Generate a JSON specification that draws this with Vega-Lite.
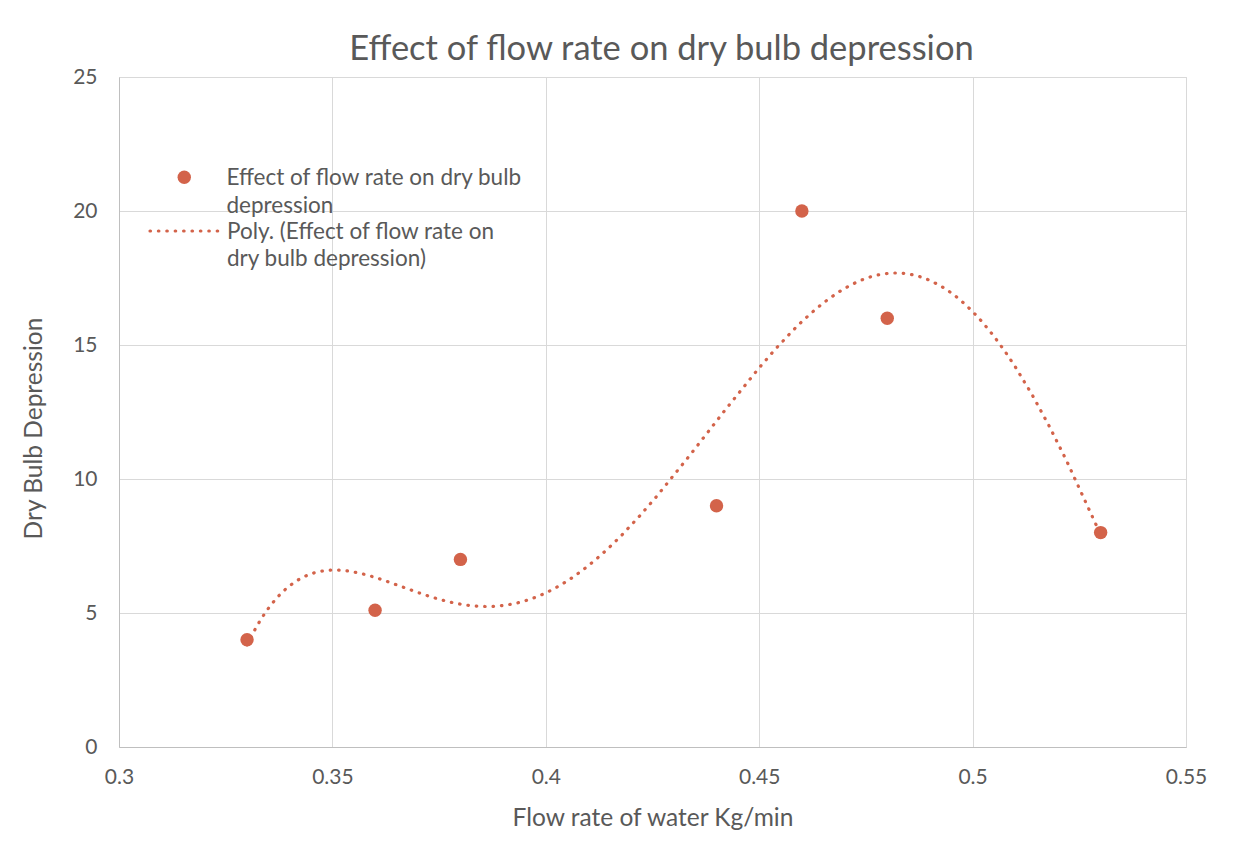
{
  "$schema": "https://vega.github.io/schema/vega-lite/v6.json",
  "width": 1067,
  "height": 670,
  "autosize": {"type": "none"},
  "padding": {"left": 119, "top": 77, "right": 63, "bottom": 96},
  "background": "white",
  "title": {
    "text": "Effect of flow rate on dry bulb depression",
    "font": "Lato",
    "fontSize": 34.5,
    "fontWeight": "normal",
    "color": "#595959",
    "anchor": "middle",
    "baseline": "alphabetic",
    "offset": -28,
    "dx": 9
  },
  "data": {
    "values": [
      {"flow": 0.33, "dbd": 4},
      {"flow": 0.36, "dbd": 5.1},
      {"flow": 0.38, "dbd": 7},
      {"flow": 0.44, "dbd": 9},
      {"flow": 0.46, "dbd": 20},
      {"flow": 0.48, "dbd": 16},
      {"flow": 0.53, "dbd": 8}
    ]
  },
  "config": {
    "font": "Lato",
    "view": {"stroke": "#d9d9d9", "strokeWidth": 1},
    "axis": {
      "grid": true,
      "gridColor": "#d9d9d9",
      "gridWidth": 1,
      "ticks": false,
      "labelFlush": false,
      "domainColor": "#bfbfbf",
      "domainWidth": 1,
      "labelFont": "Lato",
      "labelFontSize": 21,
      "labelColor": "#595959",
      "titleFont": "Lato",
      "titleFontSize": 24.5,
      "titleFontWeight": "normal",
      "titleColor": "#595959"
    },
    "legend": {
      "labelFont": "Lato",
      "labelFontSize": 22.5,
      "labelColor": "#595959",
      "padding": 0
    }
  },
  "layer": [
    {
      "transform": [
        {"regression": "dbd", "on": "flow", "method": "poly", "order": 5}
      ],
      "mark": {"type": "line", "strokeWidth": 3.2, "strokeCap": "round", "color": "#D3634A"},
      "encoding": {
        "x": {"field": "flow", "type": "quantitative"},
        "y": {"field": "dbd", "type": "quantitative"},
        "strokeDash": {
          "datum": "Poly. (Effect of flow rate on dry bulb depression)",
          "scale": {"range": [[0.5, 7.9]]},
          "legend": {
            "orient": "none",
            "legendX": 29,
            "legendY": 117,
            "title": null,
            "symbolType": "stroke",
            "symbolSize": 4900,
            "symbolStrokeColor": "#D3634A",
            "symbolStrokeWidth": 3.2,
            "labelOffset": 5,
            "labelLimit": 500,
            "labelBaseline": "alphabetic",
            "labelExpr": "['Poly. (Effect of flow rate on', 'dry bulb depression)']",
            "encode": {
              "symbols": {"update": {"strokeCap": {"value": "round"}}},
              "labels": {"update": {"dy": {"value": 8}, "lineHeight": {"value": 27}}}
            }
          }
        }
      }
    },
    {
      "mark": {"type": "circle", "size": 180, "opacity": 1, "color": "#D3634A"},
      "encoding": {
        "x": {
          "field": "flow",
          "type": "quantitative",
          "scale": {"domain": [0.3, 0.55], "nice": false, "zero": false},
          "axis": {
            "values": [0.3, 0.35, 0.4, 0.45, 0.5, 0.55],
            "format": ".2~f",
            "title": "Flow rate of water Kg/min",
            "labelPadding": 19,
            "titleY": 71,
            "titleBaseline": "middle"
          }
        },
        "y": {
          "field": "dbd",
          "type": "quantitative",
          "scale": {"domain": [0, 25], "nice": false},
          "axis": {
            "values": [0, 5, 10, 15, 20, 25],
            "title": "Dry Bulb Depression",
            "labelPadding": 22,
            "titleX": -85,
            "titleY": 351,
            "titleBaseline": "middle"
          }
        },
        "color": {
          "datum": "Effect of flow rate on dry bulb depression",
          "scale": {"range": ["#D3634A"]},
          "legend": {
            "orient": "none",
            "legendX": 54,
            "legendY": 89,
            "title": null,
            "symbolType": "circle",
            "symbolSize": 180,
            "symbolOpacity": 1,
            "labelOffset": 31,
            "labelLimit": 500,
            "labelBaseline": "alphabetic",
            "labelExpr": "['Effect of flow rate on dry bulb', 'depression']",
            "encode": {
              "labels": {"update": {"dy": {"value": 8}, "lineHeight": {"value": 28}}}
            }
          }
        }
      }
    }
  ]
}
